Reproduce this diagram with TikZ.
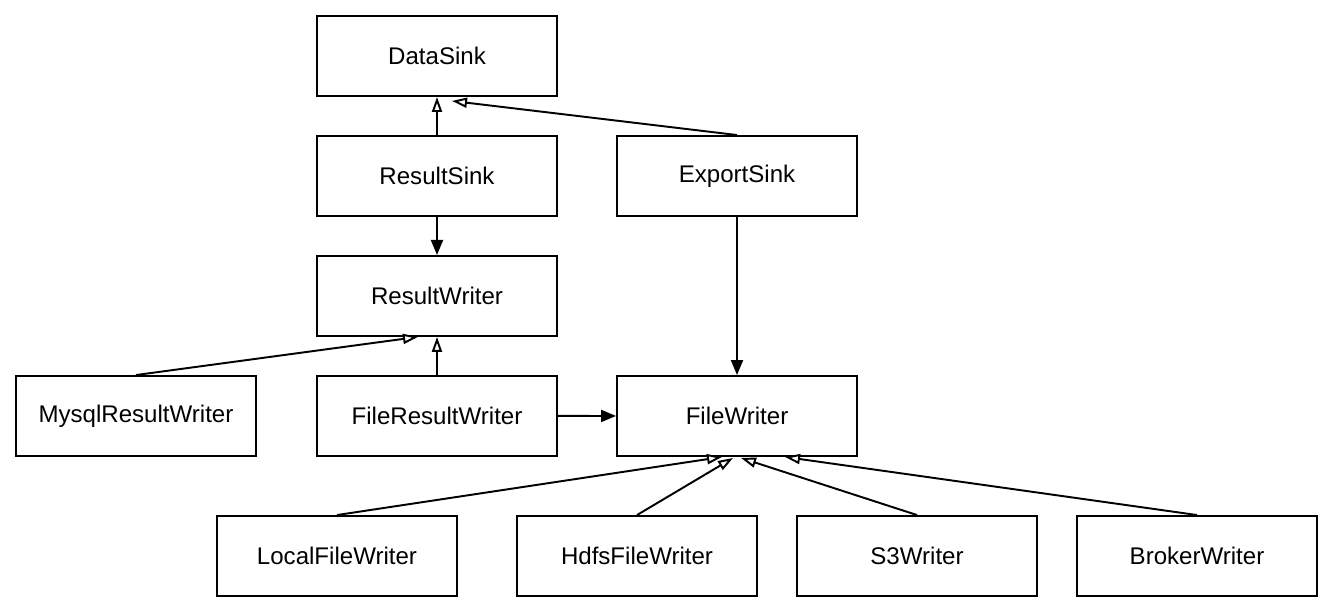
\documentclass[tikz,border=0pt]{standalone}
\usepackage{fontspec}
\setmainfont{Liberation Sans}
\usetikzlibrary{arrows.meta}

\begin{document}
\begin{tikzpicture}[x=0.02cm, y=-0.02cm, node distance={24mm},
    main/.style = {draw, rectangle, line width=1.1pt, minimum width=48mm, minimum height=16mm, font=\fontsize{13.7}{16}\selectfont},
    inherit/.style = {-{Triangle[open, length=3mm, width=2mm, fill=white]}, line width=1.1pt},
    uses/.style = {-{Triangle[length=3mm, width=2.4mm]}, line width=1.1pt}]
            \useasboundingbox (0,0) rectangle (1334,614);

            \node[main] (DataSink) at (437,56) {DataSink};
            \node[main] (ResultSink) [below of=DataSink] {ResultSink};
            \node[main] (ResultWriter) [below of=ResultSink] {ResultWriter};
            \node[main] (FileResultWriter) [below of=ResultWriter] {FileResultWriter};
            \node[main] (ExportSink) at (737,176) {ExportSink};
            \node[main] (FileWriter) at (737,416) {FileWriter};
            \node[main] (MysqlResultWriter) at (136,416) {MysqlResultWriter};

            \node[main] (LocalFileWriter) at (337,556) {LocalFileWriter};
            \node[main] (HdfsFileWriter) at (637,556) {HdfsFileWriter};
            \node[main] (S3Writer) at (917,556) {S3Writer};
            \node[main] (BrokerWriter) at (1197,556) {BrokerWriter};

            \draw[inherit] (ResultSink) -- (DataSink);
            \draw[inherit] (ExportSink.north) -- ([shift={(15,4)}]DataSink.south);

            \draw[uses] (ResultSink) -- (ResultWriter);
            \draw[inherit] (MysqlResultWriter.north) -- ([shift={(-19,0)}]ResultWriter.south);
            \draw[inherit] (FileResultWriter) -- (ResultWriter);

            \draw[uses] (FileResultWriter) -- (FileWriter);
            \draw[uses] (ExportSink) -- (FileWriter);

            \draw[inherit] (LocalFileWriter.north) -- ([shift={(-15,0)}]FileWriter.south);
            \draw[inherit] (HdfsFileWriter.north) -- ([shift={(-4,1)}]FileWriter.south);
            \draw[inherit] (S3Writer.north) -- ([shift={(4,1)}]FileWriter.south);
            \draw[inherit] (BrokerWriter.north) -- ([shift={(48,0)}]FileWriter.south);
        \end{tikzpicture}
\end{document}
